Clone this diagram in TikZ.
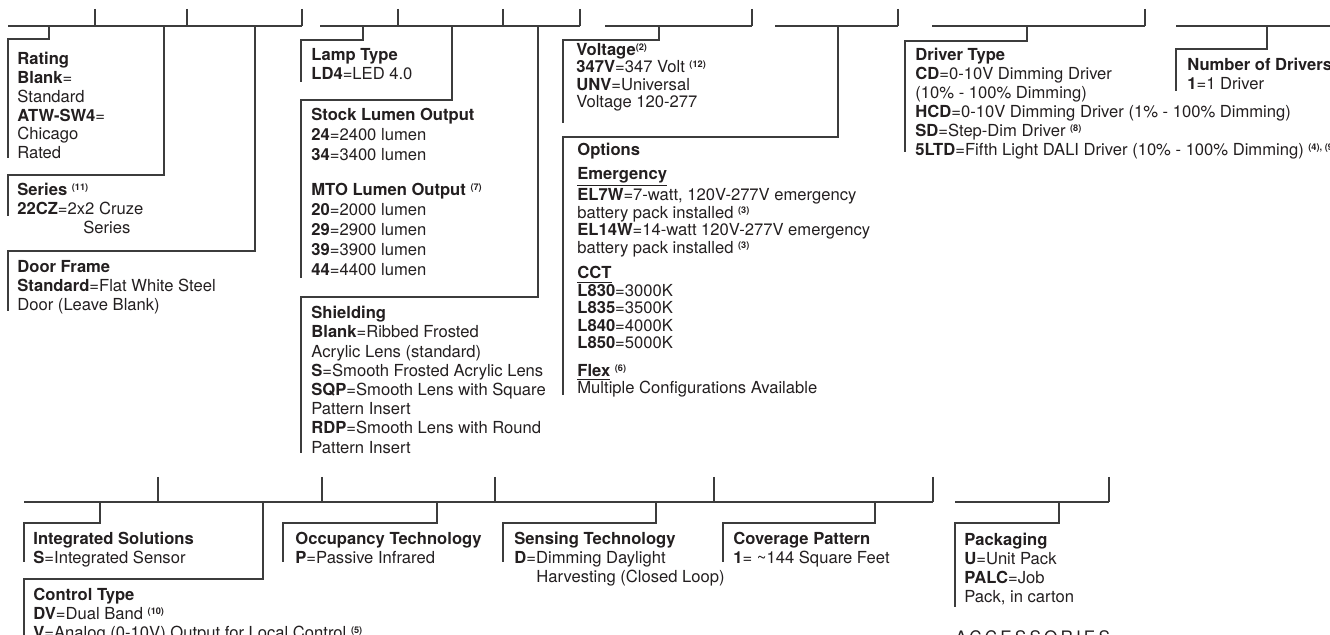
\documentclass[tikz,border=0pt]{standalone}
\usepackage{fontspec}
\setmainfont{TeX Gyre Heros}
\newfontfamily\accfont[LetterSpace=18]{TeX Gyre Heros}
\usetikzlibrary{positioning}
\definecolor{ordink}{RGB}{35,31,32}
\definecolor{ordrule}{RGB}{60,60,60}
\newcommand{\fnref}[1]{\raisebox{0.6ex}{\fontsize{4.6}{5}\selectfont\bfseries #1}}

\begin{document}
\begin{tikzpicture}[x=0.5pt, y=-0.5pt,
  wire/.style={draw=ordrule, line width=0.6pt},
  field/.style={anchor=north west, inner sep=0pt, align=left, text=ordink,
                font=\fontsize{8.3}{9.4}\selectfont},
  tight/.style={font=\fontsize{8.3}{8.75}\selectfont},
  loose/.style={font=\fontsize{8.3}{10}\selectfont}
]
  \useasboundingbox (0,0) rectangle (1330,635);

  %% Code bars (top row)
  \foreach \xa/\xb in {8/302, 320/580, 605/752, 775/898, 932/1145, 1176/1330}
    \draw[wire] (\xa,26) -- (\xb,26);
  \foreach \x in {95,187,302,398,503,580,752,898,1145}
    \draw[wire] (\x,9) -- (\x,26);
  %% Code bars (bottom row)
  \foreach \xa/\xb in {24/933, 955/1109}
    \draw[wire] (\xa,502) -- (\xb,502);
  \foreach \x in {158,322,495,714,933,1109}
    \draw[wire] (\x,477) -- (\x,502);

  %% Field texts, top row
  \node[field] (rating) at (17,52) {\textbf{Rating}\\\textbf{Blank}=\\Standard\\\textbf{ATW-SW4}=\\Chicago\\Rated};
  \node[field] (series) at (17,183) {\textbf{Series} \fnref{(11)}\\\textbf{22CZ}=2x2 Cruze\\\hspace*{33pt}Series};
  \node[field] (door) at (17,260) {\textbf{Door Frame}\\\textbf{Standard}=Flat White Steel\\Door (Leave Blank)};
  \node[field] (lamp) at (311,48) {\textbf{Lamp Type}\\\textbf{LD4}=LED 4.0};
  \node[field, loose] (lumen) at (311,108) {\textbf{Stock Lumen Output}\\\textbf{24}=2400 lumen\\\textbf{34}=3400 lumen\\[7.5pt]
    \textbf{MTO Lumen Output} \fnref{(7)}\\\textbf{20}=2000 lumen\\\textbf{29}=2900 lumen\\\textbf{39}=3900 lumen\\\textbf{44}=4400 lumen};
  \node[field, font=\fontsize{8.3}{9.6}\selectfont] (shield) at (311,306) {\textbf{Shielding}\\\textbf{Blank}=Ribbed Frosted\\Acrylic Lens (standard)\\
    \textbf{S}=Smooth Frosted Acrylic Lens\\\textbf{SQP}=Smooth Lens with Square\\Pattern Insert\\\textbf{RDP}=Smooth Lens with Round\\Pattern Insert};
  \node[field, tight] (volt) at (576,43) {\textbf{Voltage}\fnref{(2)}\\\textbf{347V}=347 Volt \fnref{(12)}\\\textbf{UNV}=Universal\\Voltage 120-277};
  \node[field, tight] (options) at (577,143) {\textbf{Options}\\[3pt]\underline{\textbf{Emergency}}\\
    \textbf{EL7W}=7-watt, 120V-277V emergency\\battery pack installed \fnref{(3)}\\
    \textbf{EL14W}=14-watt 120V-277V emergency\\battery pack installed \fnref{(3)}\\[4pt]
    \underline{\textbf{CCT}}\\\textbf{L830}=3000K\\\textbf{L835}=3500K\\\textbf{L840}=4000K\\\textbf{L850}=5000K\\[5pt]
    \underline{\textbf{Flex}} \fnref{(6)}\\Multiple Configurations Available};
  \node[field, font=\fontsize{8.3}{9.5}\selectfont] (driver) at (915,48) {\textbf{Driver Type}\\\textbf{CD}=0-10V Dimming Driver\\(10\% - 100\% Dimming)\\
    \textbf{HCD}=0-10V Dimming Driver (1\% - 100\% Dimming)\\\textbf{SD}=Step-Dim Driver \fnref{(8)}\\
    \textbf{5LTD}=Fifth Light DALI Driver (10\% - 100\% Dimming) \fnref{(4), (9)}};
  \node[field] (ndrv) at (1187,58) {\textbf{Number of Drivers}\\\textbf{1}=1 Driver};

  %% Field texts, bottom row
  \node[field] (integ) at (33,532) {\textbf{Integrated Solutions}\\\textbf{S}=Integrated Sensor};
  \node[field] (ctrl) at (33,588) {\textbf{Control Type}\\\textbf{DV}=Dual Band \fnref{(10)}\\\textbf{V}=Analog (0-10V) Output for Local Control \fnref{(5)}};
  \node[field] (occ) at (295,532) {\textbf{Occupancy Technology}\\\textbf{P}=Passive Infrared};
  \node[field] (sens) at (514,532) {\textbf{Sensing Technology}\\\textbf{D}=Dimming Daylight\\\hspace*{11pt}Harvesting (Closed Loop)};
  \node[field] (cov) at (733,532) {\textbf{Coverage Pattern}\\\textbf{1}= \textasciitilde144 Square Feet};
  \node[field] (pack) at (964,533) {\textbf{Packaging}\\\textbf{U}=Unit Pack\\\textbf{PALC}=Job\\Pack, in carton};
  \node[field, anchor=base west, font={\accfont\fontsize{8.6}{10}\selectfont}] (acc) at (955,644) {ACCESSORIES};

  %% Leaders from the bars to the fields
  \foreach \n/\dx/\hy/\lx/\ey in {rating/49/39/8/158, series/164/175/8/216, door/255/251/8/311,
      lamp/363/40/301/82, lumen/452/100/301/278, shield/538/297/301/453,
      volt/659/40/563/123, options/838/137/563/395, driver/1027/41/905/152, ndrv/1267/49/1176/91}{
    \coordinate (\n-tap) at (\dx,26);
    \draw[wire] (\n-tap) |- (\lx,\hy) -- (\lx,\ey);
  }
  \foreach \n/\dx/\hy/\lx/\ey in {integ/100/523/24/562, ctrl/263/579/24/640, occ/437/523/283/562,
      sens/656/523/503/562, cov/875/523/723/562, pack/1059/523/955/607}{
    \coordinate (\n-tap) at (\dx,502);
    \draw[wire] (\n-tap) |- (\lx,\hy) -- (\lx,\ey);
  }
\end{tikzpicture}
\end{document}
